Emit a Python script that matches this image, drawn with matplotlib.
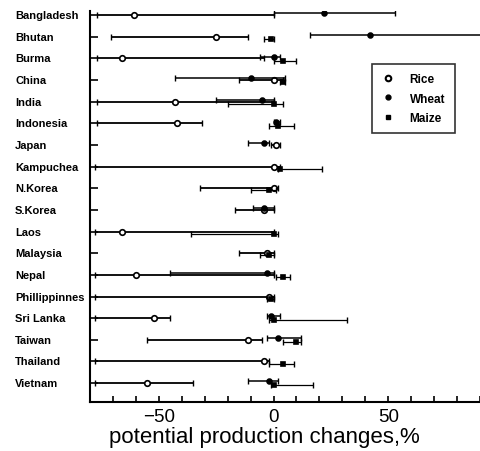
import numpy as np
import matplotlib
matplotlib.use("Agg")
import matplotlib.pyplot as plt
from matplotlib.ticker import FixedLocator, MultipleLocator
from matplotlib.transforms import blended_transform_factory
from matplotlib.lines import Line2D

plt.rcParams['font.family'] = ['Liberation Sans', 'DejaVu Sans']

countries = ["Bangladesh", "Bhutan", "Burma", "China", "India", "Indonesia", "Japan",
             "Kampuchea", "N.Korea", "S.Korea", "Laos", "Malaysia", "Nepal",
             "Phillippinnes", "Sri Lanka", "Taiwan", "Thailand", "Vietnam"]
nan = np.nan
rice_lo  = [-77, -71, -77, -15, -77, -77, -1, -78, -32, -17, -78, -15, -78, -78, -78, -55, -78, -78]
rice_mid = [-61, -25, -66,   0, -43, -42,  1,   0,   0,  -4, -66,  -3, -60,  -2, -52, -11,  -4, -55]
rice_hi  = [  0, -11,  -4,   4,   0, -31,  3,   3,   2,   0,   0,   0,   0,   0, -45,  -5,  -2, -35]

wheat_lo  = [0, 16, -6, -43, -25, 0, -11, nan, nan, -9, nan, nan, -45, nan, -3, -3, nan, -11]
wheat_mid = [22, 42, 0, -10, -5, 1, -4, nan, nan, -4, nan, nan, -3, nan, -1, 2, nan, -2]
wheat_hi  = [53, 95, 3, 5, 0, 3, -2, nan, nan, 0, nan, nan, 0, nan, 3, 12, nan, 2]

maize_lo  = [nan, -4, 0, 3, -20, -2, nan, 2, -10, nan, -36, -6, 1, -3, -2, 4, -2, -1]
maize_mid = [nan, -1, 4, 4, 0, 2, nan, 3, -2, nan, 0, -2, 4, -1, 0, 10, 4, 0]
maize_hi  = [nan, 0, 10, 5, 4, 9, nan, 21, 1, nan, 2, 0, 7, 0, 32, 12, 9, 17]

fig = plt.figure(figsize=(4.8, 4.52), dpi=100)
ax = fig.add_axes([0.1875, 0.108, 0.8125, 0.865])

y = np.arange(len(countries))

def draw(lo, mid, hi, off, marker, ms, mfc, ls, lw):
    lo = np.array(lo, float); mid = np.array(mid, float); hi = np.array(hi, float)
    ok = ~np.isnan(mid)
    yy = y[ok] + off
    ax.errorbar(mid[ok], yy, xerr=[mid[ok] - lo[ok], hi[ok] - mid[ok]],
                fmt='none', ecolor='black', elinewidth=lw, capsize=2, capthick=1,
                linestyle=ls)
    ax.plot(mid[ok], yy, linestyle='none', marker=marker, ms=ms,
            mfc=mfc, mec='black', mew=1.2)

draw(rice_lo, rice_mid, rice_hi, 0.0, 'o', 4, 'white', '-', 1.3)
draw(wheat_lo, wheat_mid, wheat_hi, -0.08, 'o', 3.5, 'black', '-', 1.1)
draw(maize_lo, maize_mid, maize_hi, 0.1, 's', 3.5, 'black', '--', 0.9)

ax.set_xlim(-80, 90)
ax.set_ylim(17.88, -0.18)

ax.xaxis.set_major_locator(FixedLocator([-50, 0, 50]))
ax.xaxis.set_minor_locator(MultipleLocator(10))
ax.tick_params(axis='x', which='both', direction='in', length=4, width=1.2,
               labelsize=13.5, pad=4)
ax.set_yticks(y)
ax.set_yticklabels([])
ax.tick_params(axis='y', direction='in', length=6, width=1.2)

for s in ['top', 'right']:
    ax.spines[s].set_visible(False)
for s in ['left', 'bottom']:
    ax.spines[s].set_linewidth(1.5)

trans = blended_transform_factory(fig.transFigure, ax.transData)
for i, c in enumerate(countries):
    ax.text(15 / 480, i, c, transform=trans, ha='left', va='center',
            fontsize=8, fontweight='bold')

ax.set_xlabel("potential production changes,%", fontsize=16)
ax.xaxis.set_label_coords(0.446, -0.06)

handles = [Line2D([], [], ls='none', marker='o', ms=4, mfc='white', mec='black', mew=1.5),
           Line2D([], [], ls='none', marker='o', ms=3.5, mfc='black', mec='black'),
           Line2D([], [], ls='none', marker='s', ms=3.5, mfc='black', mec='black')]
leg = ax.legend(handles, ["Rice", "Wheat", "Maize"], loc='upper right',
                bbox_to_anchor=(0.95, 0.88), fancybox=False, edgecolor='black',
                prop={'size': 8.5, 'weight': 'bold'}, handlelength=1.2,
                handletextpad=1.2, borderpad=0.8, labelspacing=0.6)
leg.get_frame().set_linewidth(1.2)

fig.savefig("out.png", dpi=100)
